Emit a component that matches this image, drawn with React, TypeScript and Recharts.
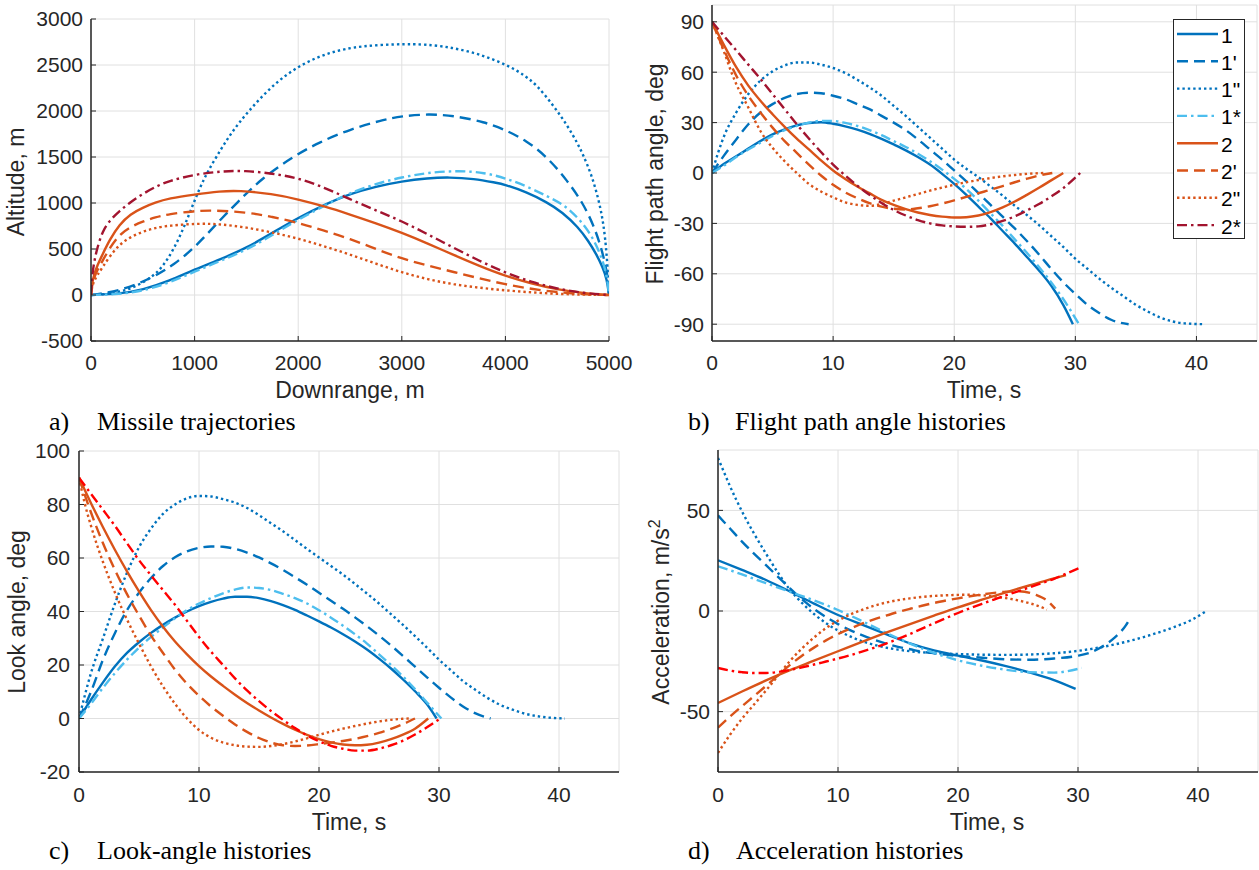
import React from 'react';
import { LineChart, Line, XAxis, YAxis, CartesianGrid, Legend } from 'recharts';

// ---------- labels ----------
const SERIES_LABELS = ['1', "1'", '1"', '1*', '2', "2'", '2"', '2*'];
const TIME_TICKS = [0, 10, 20, 30, 40];
const A_X_TICKS = [0, 1000, 2000, 3000, 4000, 5000];
const A_Y_TICKS = [-500, 0, 500, 1000, 1500, 2000, 2500, 3000];
const B_Y_TICKS = [-90, -60, -30, 0, 30, 60, 90];
const C_Y_TICKS = [-20, 0, 20, 40, 60, 80, 100];
const D_Y_TICKS = [-50, 0, 50];

// ---------- a) trajectories: [downrange m, altitude m] ----------
const A_1 = [[0,0],[275,12],[500,55],[750,150],[1000,278],[1250,388],[1500,510],[1750,675],[2000,840],[2290,1000],[2500,1100],[2750,1180],[3000,1237],[3250,1270],[3454,1281],[3700,1264],[3900,1222],[4000,1199],[4200,1120],[4400,1010],[4550,900],[4700,740],[4800,590],[4880,440],[4940,300],[4980,170],[5000,0]];
const A_1P = [[0,0],[275,40],[600,190],[800,330],[1000,514],[1200,760],[1406,1000],[1650,1270],[1946,1500],[2200,1660],[2500,1800],[2800,1900],[3000,1945],[3257,1968],[3500,1950],[3800,1880],[4000,1795],[4200,1680],[4404,1500],[4600,1240],[4748,1000],[4850,760],[4912,560],[4960,360],[4990,180],[5000,0]];
const A_1PP = [[0,0],[200,12],[400,70],[600,200],[700,320],[800,500],[900,740],[1000,1030],[1100,1290],[1209,1500],[1350,1760],[1520,2000],[1750,2280],[2012,2500],[2300,2640],[2600,2710],[3060,2732],[3300,2718],[3500,2685],[3700,2632],[3850,2575],[4010,2500],[4150,2415],[4300,2290],[4469,2050],[4600,1840],[4700,1640],[4748,1530],[4830,1310],[4895,1060],[4940,820],[4965,600],[4985,330],[5000,0]];
const A_1S = [[0,0],[275,8],[500,45],[750,130],[1000,255],[1250,370],[1500,490],[1750,650],[2000,820],[2300,1000],[2500,1110],[2750,1210],[3000,1280],[3250,1330],[3550,1353],[3800,1330],[4000,1270],[4200,1185],[4400,1075],[4567,980],[4700,840],[4800,700],[4880,540],[4940,370],[4980,210],[5000,0]];
const A_2 = [[0,0],[10,130],[30,220],[60,320],[111,440],[180,600],[275,767],[380,880],[500,950],[620,1005],[750,1050],[1000,1093],[1250,1128],[1422,1136],[1750,1100],[2000,1040],[2250,965],[2500,875],[2750,780],[3000,677],[3250,560],[3500,435],[3750,315],[4000,206],[4250,125],[4500,60],[4750,20],[5000,0]];
const A_2P = [[0,0],[10,110],[30,190],[60,270],[111,370],[180,510],[275,658],[380,740],[500,800],[620,845],[750,880],[1000,912],[1160,922],[1500,900],[1750,850],[2000,785],[2250,700],[2500,610],[2750,500],[3000,395],[3250,320],[3500,250],[3750,180],[4000,115],[4250,65],[4500,30],[4750,8],[5000,0]];
const A_2PP = [[0,0],[10,90],[30,150],[60,215],[111,300],[180,420],[275,550],[380,630],[500,690],[620,730],[750,755],[1045,778],[1250,770],[1500,735],[1750,680],[2000,615],[2250,530],[2500,440],[2750,340],[3000,245],[3250,170],[3500,115],[3750,78],[4000,50],[4250,28],[4500,12],[4750,3],[5000,0]];
const A_2S = [[0,0],[10,200],[30,360],[60,510],[111,695],[180,810],[275,912],[380,1010],[500,1100],[620,1175],[750,1240],[1000,1310],[1250,1345],[1488,1353],[1750,1320],[2000,1273],[2250,1170],[2500,1040],[2750,920],[3000,803],[3250,660],[3500,514],[3750,370],[4000,242],[4250,140],[4500,68],[4750,20],[5000,0]];

// ---------- b) flight path angle: [time s, deg] ----------
const B_1 = [[0,0],[1,5.5],[2,10],[3,14.5],[4,19],[5,23],[6,26],[7,28.3],[8,29.8],[9,30.2],[10,29.3],[11,27.8],[12,25.8],[13,23.3],[14,20.3],[15,17],[16,13.5],[17,9.5],[18,5],[19,-0.5],[20,-6.5],[21,-13],[22,-20],[23,-27],[24,-34.5],[25,-42],[26,-50],[27,-58],[28,-67],[29,-78.5],[29.8,-90]];
const B_1P = [[0,0],[1,10.5],[2,20],[3,29],[4,36],[5,41],[6,44.7],[7,47],[8,47.8],[9,47.5],[10,46],[11,44],[12,41],[13,38],[14,34],[15,30],[16,25.5],[17,20],[18,14],[19,8],[20,1.5],[21,-5],[22,-12],[23,-19],[24,-26],[25,-33],[26,-40.5],[27,-48.5],[28,-57],[29,-65],[30,-72],[31,-78.5],[32,-83.5],[33,-87.5],[34.4,-90]];
const B_1PP = [[0,0],[0.5,12],[1,22],[2,36],[3,47],[4,55],[5,60.5],[6,64],[7,65.8],[8,65.8],[9,64.5],[10,62.5],[11,59.5],[12,55.5],[13,51],[14,46],[15,40],[16,34],[17,27.5],[18,21],[19,14.5],[20,8],[21,2.5],[22,-2.5],[23,-8],[24,-13.5],[25,-19.5],[26,-25],[27,-31],[28,-37.5],[29,-44],[30,-51],[31,-57],[32,-63],[33,-68.5],[34,-73.5],[35,-78.5],[36,-82.5],[37,-86],[38,-88.3],[39,-89.5],[40.7,-90]];
const B_1S = [[0,0],[1,4.5],[2,9.5],[3,14],[4,18],[5,22],[6,25.5],[7,28],[8,30],[9,31],[10,31],[11,29.8],[12,28],[13,25.5],[14,22.5],[15,19],[16,15.5],[17,11.5],[18,7],[19,2],[20,-3.5],[21,-9.5],[22,-16.5],[23,-24],[24,-31.5],[25,-39.5],[26,-47.5],[27,-56],[28,-65],[29,-75],[30.3,-90]];
const B_2 = [[0,90],[1,76],[2,63],[3,52],[4,43],[5,35],[6,27.5],[7,20.5],[8,14],[9,7.5],[10,1.5],[11,-3.5],[12,-8],[13,-12],[14,-16],[15,-19],[16,-21.5],[17,-23.5],[18,-25],[19,-26],[20,-26.5],[21,-26.3],[22,-25.3],[23,-23.3],[24,-20.5],[25,-17],[26,-13],[27,-8.8],[28,-4.4],[29,0]];
const B_2P = [[0,90],[1,73],[2,58],[3,46],[4,36],[5,27],[6,19],[7,12],[8,5],[9,-1.5],[10,-7],[11,-11.5],[12,-15],[13,-18],[14,-20],[15,-21.3],[16,-21.7],[17,-21],[18,-19.8],[19,-18.2],[20,-16.3],[21,-14.2],[22,-12],[23,-10],[24,-7.8],[25,-5.5],[26,-3.4],[27,-1.5],[28.1,0]];
const B_2PP = [[0,90],[0.5,81],[1,72],[1.6,60],[2,53],[3,39],[3.55,31],[4,25],[5,15],[6,7],[7,0],[8,-6.5],[9,-11],[10,-14.5],[11,-17.5],[12,-19],[13,-19.5],[14,-18.5],[15,-16.5],[16,-14.5],[17,-12.5],[18,-10.5],[19,-8.7],[20,-7],[21,-5.5],[22,-4.2],[23,-3],[24,-2],[25,-1.2],[26,-0.5],[27.4,0]];
const B_2S = [[0,90],[1,81.5],[2,73],[3,64.5],[4,56],[5,47],[6,38],[7,29],[8,20.5],[9,12.5],[10,5],[11,-1.5],[12,-7.5],[13,-13],[14,-17.8],[15,-22],[16,-25.3],[17,-28],[18,-30],[19,-31.2],[20,-31.8],[21,-32],[22,-31.8],[23,-30.5],[24,-28.5],[25,-25.8],[26,-22.3],[27,-18.5],[28,-14],[29,-9],[30.4,0]];

// ---------- c) look angle: [time s, deg] ----------
const C_1 = [[0,0],[1,7],[2,13.5],[3,19.5],[4,24.5],[5,28.5],[6,32],[7,35],[8,37.7],[9,40],[10,42],[11,43.6],[12,44.8],[13,45.5],[14,45.5],[15,45],[16,43.9],[17,42.4],[18,40.6],[19,38.5],[20,36.3],[21,34],[22,31.5],[23,28.8],[24,25.8],[25,22.4],[26,18.7],[27,14.6],[28,10.2],[29,5.3],[29.8,0]];
const C_1P = [[0,0],[1,10],[2,22],[3,32],[4,40.5],[5,47],[6,52.5],[7,57],[8,60.3],[9,62.5],[10,63.8],[11,64.3],[12,64.2],[13,63.4],[14,62],[15,60.2],[16,58],[17,55.5],[18,52.8],[19,50],[20,47],[21,44],[22,41],[23,37.8],[24,34.5],[25,31],[26,27.3],[27,23.4],[28,19.4],[29,15.4],[30,11.5],[31,7.8],[32,4.5],[33,2],[34.3,0]];
const C_1PP = [[0,0],[1,17],[2,30],[3,43],[4,54.5],[5,64],[6,71],[7,76.5],[8,80],[9,82.3],[10,83.2],[11,83],[12,82],[13,80.7],[14,78.7],[15,76],[16,73],[17,70],[18,66.7],[19,63.4],[20,60.2],[21,57],[22,53.8],[23,50.3],[24,46.7],[25,43],[26,39],[27,35],[28,30.8],[29,26.5],[30,22],[31,18],[32,14],[33,10.8],[34,7.8],[35,5.3],[36,3.5],[37,2],[38,1],[39,0.4],[40.5,0]];
const C_1S = [[0,0],[1,5.5],[2,11.5],[3,17],[4,22],[5,26.5],[6,30.5],[7,34],[8,37.5],[9,40.5],[10,43],[11,45],[12,46.8],[13,48.2],[14,49],[15,48.8],[16,48],[17,46.6],[18,45],[19,43],[20,40.5],[21,37.7],[22,34.7],[23,31.5],[24,28],[25,24],[26,20],[27,15.7],[28,11],[29,6],[30.2,0]];
const C_2 = [[0,90],[1,80.5],[2,71.5],[3,63],[4,55],[5,47.5],[6,40.5],[7,34.3],[8,28.8],[9,24],[10,19.6],[11,15.7],[12,12.2],[13,8.9],[14,5.8],[15,3],[16,0.4],[17,-2],[18,-4.2],[19,-6.1],[20,-7.7],[21,-8.9],[22,-9.7],[23,-10],[24,-9.8],[25,-9],[26,-7.7],[27,-6],[28,-3.8],[29.1,0]];
const C_2P = [[0,90],[1,77],[2,65.5],[3,55.5],[4,46.5],[5,38.5],[6,31],[7,24.5],[8,18.3],[9,13],[10,8.5],[11,4.5],[12,1],[13,-2.2],[14,-5],[15,-7.3],[16,-9],[17,-10],[18,-10.3],[19,-10.1],[20,-9.6],[21,-9],[22,-8.4],[23,-7.6],[24,-6.6],[25,-5.4],[26,-3.9],[27,-2.1],[28,0]];
const C_2PP = [[0,90],[0.5,80],[1,72],[2,58.5],[3,47],[4,37],[5,28],[6,19.5],[7,12],[8,5.5],[9,0],[10,-4.3],[11,-7.2],[12,-9],[13,-10],[14,-10.5],[15,-10.6],[16,-10.3],[17,-9.6],[18,-8.6],[19,-7.4],[20,-6.1],[21,-4.9],[22,-3.8],[23,-2.8],[24,-1.9],[25,-1.1],[26,-0.5],[27,-0.1],[27.7,0]];
const C_2S = [[0,90],[1,84],[2,78],[3,72],[4,65.5],[5,59.2],[6,53.5],[7,48],[8,42.5],[9,36.5],[10,30.5],[11,25],[12,20],[13,15],[14,10.5],[15,6.5],[16,2.8],[17,-0.5],[18,-3.6],[19,-6.3],[20,-8.5],[21,-10.2],[22,-11.3],[23,-12],[24,-12],[25,-11.3],[26,-10],[27,-8.3],[28,-6],[29,-3.3],[30.1,0]];

// ---------- d) acceleration: [time s, m/s^2] ----------
const D_1 = [[0,25.2],[2,20.4],[4,15.4],[6,9.7],[8,3.7],[10,-2],[12,-6.8],[14,-11.5],[16,-16.1],[18,-19.6],[20,-22.2],[22,-24.6],[24,-27.4],[26,-30.6],[28,-34.3],[29.8,-38.7]];
const D_1P = [[0,47.5],[1,41],[2,34.5],[3,28.5],[4,22.8],[5,17],[6,11.2],[7,5.8],[8,1],[9,-3],[10,-6.5],[11,-9.5],[12,-12],[13,-14.3],[14,-16.2],[15,-17.8],[16,-19],[17,-20.2],[18,-21],[19,-21.7],[20,-22.3],[22,-23.2],[24,-24],[26,-24.2],[28,-23.6],[30,-22.2],[31,-20.7],[32,-17.8],[33,-13.5],[34,-7],[34.4,-3]];
const D_1PP = [[0,76],[0.5,69],[1,62],[2,49.5],[3,38.5],[4,28.5],[5,19],[6,10.5],[7,4],[8,-1.5],[9,-6],[10,-9.7],[11,-12.6],[12,-15],[13,-16.8],[14,-18.2],[15,-19.2],[16,-20],[18,-20.9],[20,-21.4],[22,-21.7],[24,-21.8],[26,-21.6],[28,-21],[30,-19.8],[32,-17.9],[34,-15.3],[36,-12],[38,-8],[39.5,-4.3],[40.7,0]];
const D_1S = [[0,22.2],[2,18.2],[4,13.8],[6,9.5],[8,5.3],[10,0.5],[12,-5],[14,-10.8],[16,-16.2],[18,-20.8],[20,-24.5],[22,-27.2],[24,-29.2],[26,-30.4],[28,-30.6],[30.3,-28.3]];
const D_2 = [[0,-45.7],[2,-40],[4,-34.5],[6,-29.4],[8,-24.7],[10,-20],[12,-15.3],[14,-10.8],[16,-6.5],[18,-2.3],[20,1.8],[22,5.6],[24,9.3],[26,12.8],[28,16.2],[29,17.8]];
const D_2P = [[0,-58],[1,-52.5],[2,-47.3],[3,-42.3],[4,-37.2],[5,-32],[6,-26.8],[7,-22.2],[8,-18.2],[9,-14.6],[10,-11.5],[11,-8.8],[12,-6.3],[13,-4.2],[14,-2.3],[15,-0.5],[16,1.1],[17,2.6],[18,4],[19,5.2],[20,6.3],[21,7.3],[22,8.2],[23,9],[24,9.6],[25,9.8],[26,9],[26.5,8],[27,6.7],[27.5,4.8],[28.1,1.2]];
const D_2PP = [[0,-70.5],[1,-61.5],[2,-53.5],[3,-46.5],[4,-39.5],[5,-32.2],[6,-24.8],[7,-18.6],[8,-13.2],[9,-8.5],[10,-4.8],[11,-1.8],[12,0.6],[13,2.6],[14,4.2],[15,5.4],[16,6.3],[17,7],[18,7.5],[19,7.8],[20,8],[21,8.1],[22,7.8],[23,7.2],[24,6.4],[25,5.3],[26,3.8],[27,1.8],[27.4,0.7]];
const D_2S = [[0,-28.3],[1,-29.6],[2,-30.4],[3,-30.8],[4,-30.8],[5,-30.3],[6,-29.3],[7,-28],[8,-26.6],[9,-25.1],[10,-23.6],[11,-22],[12,-20.2],[13,-18.3],[14,-16.2],[15,-13.9],[16,-11.4],[17,-8.8],[18,-6.1],[19,-3.5],[20,-1],[21,1.4],[22,3.6],[23,5.7],[24,7.8],[25,9.8],[26,11.8],[27,13.9],[28,16],[29,18.5],[30.3,21.9]];

// ---------- styling ----------
const BLUE = '#0072BD';
const LIGHT_BLUE = '#4DBEEE';
const ORANGE = '#D95319';
const DARK_RED = '#A2142F';
const RED = '#FF0000';
const INK = '#262626';
const SANS = '"Liberation Sans", Arial, Helvetica, sans-serif';
const SERIF = '"Liberation Serif", "Times New Roman", Times, serif';
const DASH = '11 6';
const DOT = '2.4 3';
const DASHDOT = '10 4 2.5 4';
const LW = 2.4;

const seriesStyles = (starColor: string) => [
  { color: BLUE, dash: undefined },
  { color: BLUE, dash: DASH },
  { color: BLUE, dash: DOT },
  { color: LIGHT_BLUE, dash: DASHDOT },
  { color: ORANGE, dash: undefined },
  { color: ORANGE, dash: DASH },
  { color: ORANGE, dash: DOT },
  { color: starColor, dash: DASHDOT },
];

const toPts = (arr: number[][]) => arr.map(([x, y]) => ({ x, y }));

const tickStyle = { fill: INK, fontSize: 21, fontFamily: SANS };

function LegendBox({ styles }: { styles: { color: string; dash?: string }[] }) {
  return (
    <div style={{ width: 72, height: 220, boxSizing: 'border-box', border: `1.5px solid ${INK}`, background: '#fff' }}>
      <svg width={69} height={217} style={{ display: 'block' }}>
        {SERIES_LABELS.map((lab, i) => {
          const cy = 14 + i * 27.3;
          return (
            <g key={lab}>
              <line x1={3} x2={44} y1={cy} y2={cy} stroke={styles[i].color} strokeWidth={LW} strokeDasharray={styles[i].dash} />
              <text x={47} y={cy + 8.5} fontSize={21} fontFamily={SANS} fill="#000">{lab}</text>
            </g>
          );
        })}
      </svg>
    </div>
  );
}

type PanelProps = {
  left: number; top: number; width: number; height: number;
  margin: { top: number; right: number; bottom: number; left: number };
  yWidth: number;
  xDomain: number[]; xTicks: number[];
  yDomain: number[]; yTicks: number[];
  data: number[][][];
  starColor: string;
  xTickMargin: number; yTickMargin: number;
  curve: 'basis' | 'monotone';
  legend?: boolean;
};

function Panel(p: PanelProps) {
  const styles = seriesStyles(p.starColor);
  return (
    <div style={{ position: 'absolute', left: p.left, top: p.top }}>
      <LineChart width={p.width} height={p.height} margin={p.margin}>
        <CartesianGrid stroke="#e0e0e0" strokeWidth={1} />
        <XAxis type="number" dataKey="x" domain={p.xDomain} ticks={p.xTicks} allowDataOverflow interval={0}
          height={30} tickSize={-5} tickMargin={p.xTickMargin}
          axisLine={{ stroke: INK, strokeWidth: 1.5 }} tickLine={{ stroke: INK, strokeWidth: 1 }} tick={tickStyle} />
        <XAxis xAxisId="top" orientation="top" type="number" dataKey="x" domain={p.xDomain} ticks={p.xTicks} allowDataOverflow interval={0}
          height={0} tickSize={-5} tick={false}
          axisLine={{ stroke: INK, strokeWidth: 1.5 }} tickLine={{ stroke: INK, strokeWidth: 1 }} />
        <YAxis type="number" domain={p.yDomain} ticks={p.yTicks} allowDataOverflow interval={0}
          width={p.yWidth} tickSize={-5} tickMargin={p.yTickMargin}
          axisLine={{ stroke: INK, strokeWidth: 1.5 }} tickLine={{ stroke: INK, strokeWidth: 1 }} tick={tickStyle} />
        <YAxis yAxisId="right" orientation="right" type="number" domain={p.yDomain} ticks={p.yTicks} allowDataOverflow interval={0}
          width={0} tickSize={-5} tick={false}
          axisLine={{ stroke: INK, strokeWidth: 1.5 }} tickLine={{ stroke: INK, strokeWidth: 1 }} />
        {p.data.map((arr, i) => (
          <Line key={SERIES_LABELS[i]} name={SERIES_LABELS[i]} data={toPts(arr)} dataKey="y" type={p.curve}
            stroke={styles[i].color} strokeWidth={LW} strokeDasharray={styles[i].dash}
            dot={false} activeDot={false} isAnimationActive={false} />
        ))}
        {p.legend && (
          <Legend layout="vertical" align="center" verticalAlign="middle"
            wrapperStyle={{ left: 543, top: 19, width: 72, height: 220 }}
            content={() => <LegendBox styles={styles} />} />
        )}
      </LineChart>
    </div>
  );
}

const titleStyle = { fontFamily: SANS, fontSize: 23, fill: INK } as const;
const capStyle = { fontFamily: SERIF, fontSize: 26, fill: '#000' } as const;

export default function App() {
  return (
    <div style={{ position: 'absolute', left: 0, top: 0, width: 1259, height: 870, background: '#fff', overflow: 'hidden' }}>
      <Panel left={0} top={0} width={642} height={440} margin={{ top: 19, right: 33, bottom: 69, left: 0 }} yWidth={91}
        xDomain={[0, 5000]} xTicks={A_X_TICKS} yDomain={[-500, 3000]} yTicks={A_Y_TICKS} curve="basis"
        data={[A_1, A_1P, A_1PP, A_1S, A_2, A_2P, A_2PP, A_2S]} starColor={DARK_RED} xTickMargin={19} yTickMargin={13} />
      <Panel left={630} top={0} width={629} height={440} margin={{ top: 5, right: 2, bottom: 69, left: 0 }} yWidth={82}
        xDomain={[0, 45]} xTicks={TIME_TICKS} yDomain={[-100, 100]} yTicks={B_Y_TICKS} curve="monotone"
        data={[B_1, B_1P, B_1PP, B_1S, B_2, B_2P, B_2PP, B_2S]} starColor={DARK_RED} xTickMargin={19} yTickMargin={13} legend />
      <Panel left={0} top={435} width={630} height={435} margin={{ top: 16, right: 11, bottom: 68, left: 0 }} yWidth={79}
        xDomain={[0, 45]} xTicks={TIME_TICKS} yDomain={[-20, 100]} yTicks={C_Y_TICKS} curve="monotone"
        data={[C_1, C_1P, C_1PP, C_1S, C_2, C_2P, C_2PP, C_2S]} starColor={RED} xTickMargin={20} yTickMargin={14} />
      <Panel left={630} top={435} width={629} height={435} margin={{ top: 15, right: 1, bottom: 68, left: 0 }} yWidth={88}
        xDomain={[0, 45]} xTicks={TIME_TICKS} yDomain={[-80, 80]} yTicks={D_Y_TICKS} curve="monotone"
        data={[D_1, D_1P, D_1PP, D_1S, D_2, D_2P, D_2PP, D_2S]} starColor={RED} xTickMargin={20} yTickMargin={13} />

      <svg width={1259} height={870} style={{ position: 'absolute', left: 0, top: 0, pointerEvents: 'none' }}>
        <text x={350} y={398} textAnchor="middle" {...titleStyle}>Downrange, m</text>
        <text transform="translate(24,182) rotate(-90)" textAnchor="middle" {...titleStyle}>Altitude, m</text>
        <text x={984} y={398} textAnchor="middle" {...titleStyle}>Time, s</text>
        <text transform="translate(663,174) rotate(-90)" textAnchor="middle" {...titleStyle}>Flight path angle, deg</text>
        <text x={349} y={830} textAnchor="middle" {...titleStyle}>Time, s</text>
        <text transform="translate(25,612) rotate(-90)" textAnchor="middle" {...titleStyle}>Look angle, deg</text>
        <text x={987} y={830} textAnchor="middle" {...titleStyle}>Time, s</text>
        <text transform="translate(669,612) rotate(-90)" textAnchor="middle" {...titleStyle}>Acceleration, m/s<tspan dy={-9} fontSize={16}>2</tspan></text>

        <text x={49} y={430} {...capStyle}>a)</text>
        <text x={97} y={430} {...capStyle}>Missile trajectories</text>
        <text x={688} y={430} {...capStyle}>b)</text>
        <text x={735} y={430} {...capStyle}>Flight path angle histories</text>
        <text x={49} y={859} {...capStyle}>c)</text>
        <text x={97} y={859} {...capStyle}>Look-angle histories</text>
        <text x={688} y={859} {...capStyle}>d)</text>
        <text x={736} y={859} {...capStyle}>Acceleration histories</text>
      </svg>
    </div>
  );
}
